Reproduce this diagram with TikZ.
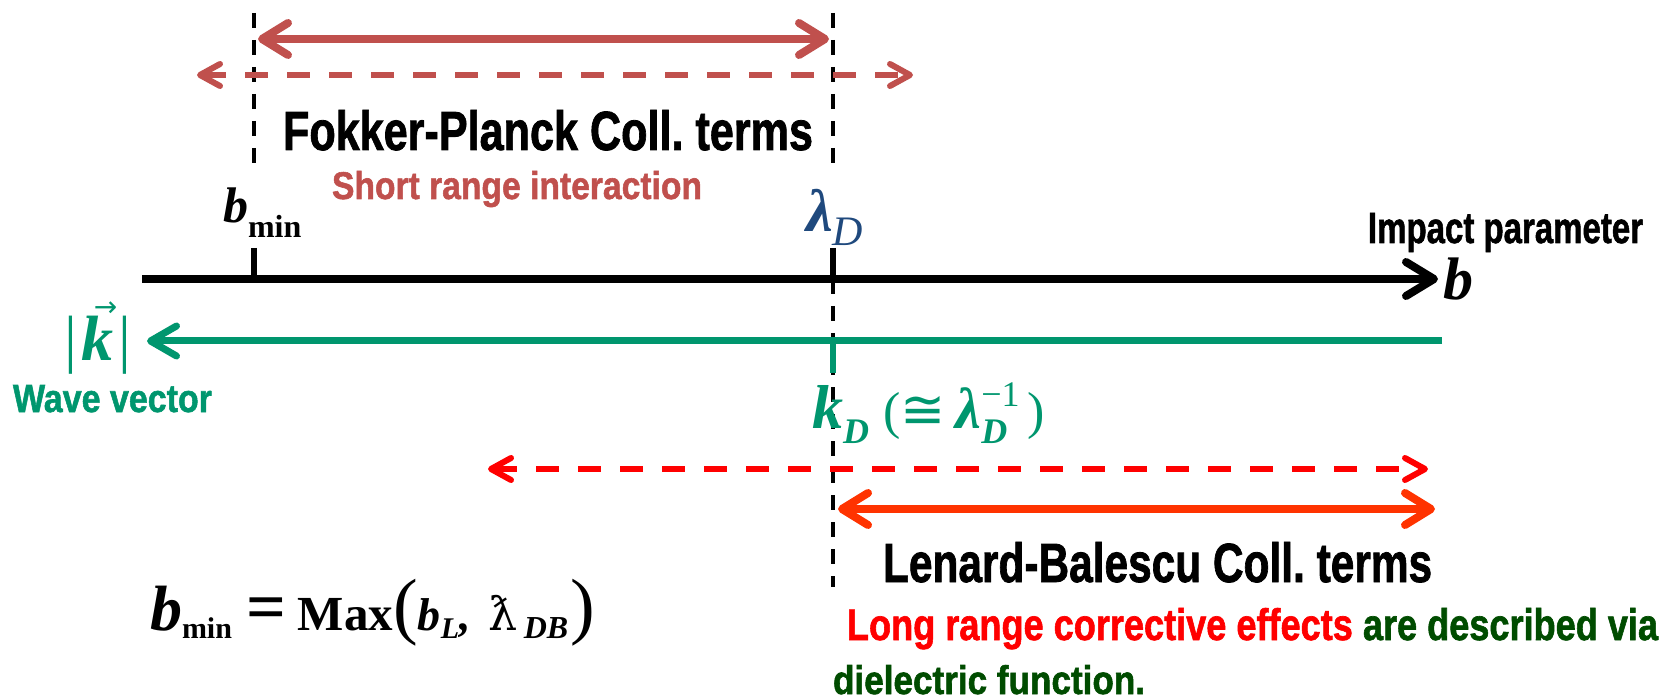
\documentclass[tikz,border=0pt]{standalone}
\usepackage{fontspec}
\usepackage{graphicx}
\setmainfont{Liberation Serif}
\newfontfamily\gothic{Liberation Sans}[FakeBold=1.5]
\newfontfamily\dvsans{DejaVu Sans}
\newfontfamily\dvserif{DejaVu Serif}
\usetikzlibrary{arrows.meta}
\definecolor{fpbrown}{RGB}{192,80,77}
\definecolor{lamblue}{RGB}{31,73,125}
\definecolor{wavegreen}{RGB}{0,150,110}
\definecolor{lbred}{RGB}{255,0,0}
\definecolor{lborange}{RGB}{255,51,0}
\definecolor{dkgreen}{RGB}{0,76,0}
\newcommand{\gfit}[3]{\resizebox{#1pt}{#2pt}{\gothic\bfseries #3}}
\newcommand{\fs}[1]{\fontsize{#1}{#1}\selectfont}
\frenchspacing
\tikzset{
  lbl/.style={inner sep=0pt, outer sep=0pt, anchor=base west},
  guide/.style={line width=4pt, dash pattern=on 15pt off 12pt},
  solidarr/.style={line width=8pt, >={Straight Barb[length=26pt,width=32pt,round]}, <->},
  dasharr/.style={line width=6pt, dash pattern=on 23pt off 19pt, >={Straight Barb[length=20pt,width=22pt,round]}, <->},
  axisarr/.style={line width=8pt, ->, >={Straight Barb[length=28pt,width=34pt,round]}},
  greenarr/.style={line width=7pt, wavegreen, ->, >={Straight Barb[length=26pt,width=30pt,round]}},
  tick/.style={line width=5.5pt}
}
\begin{document}
\begin{tikzpicture}[x=1pt,y=-1pt]
\useasboundingbox (0,0) rectangle (1670,700);
% dashed guide lines
\coordinate (gLt) at (254,13); \coordinate (gLb) at (254,167);
\coordinate (gRt) at (833,13); \coordinate (gRb) at (833,167);
\coordinate (gR2t) at (833,279); \coordinate (gR2b) at (833,587);
\draw[guide] (gLt) -- (gLb);
\draw[guide] (gRt) -- (gRb);
\draw[guide] (gR2t) -- (gR2b);
% Fokker-Planck range arrows
\coordinate (fpL) at (258,39); \coordinate (fpR) at (829,39);
\draw[solidarr, fpbrown] (fpL) -- (fpR);
\coordinate (fdL) at (197,75); \coordinate (fdR) at (913,75);
\draw[dasharr, fpbrown] (fdL) -- (fdR);
% impact parameter axis
\coordinate (axL) at (142,279); \coordinate (axR) at (1438,279);
\draw[axisarr] (axL) -- (axR);
\coordinate (t1a) at (254,248); \coordinate (t1b) at (254,279);
\coordinate (t2a) at (833,248); \coordinate (t2b) at (833,279);
\draw[tick] (t1a) -- (t1b);
\draw[tick] (t2a) -- (t2b);
% wave vector axis
\coordinate (wvR) at (1442,341); \coordinate (wvL) at (147,341);
\draw[greenarr] (wvR) -- (wvL);
\coordinate (t3a) at (833,341); \coordinate (t3b) at (833,373);
\draw[tick, wavegreen] (t3a) -- (t3b);
% Lenard-Balescu range arrows
\coordinate (rdL) at (488,469); \coordinate (rdR) at (1428,469);
\draw[dasharr, lbred] (rdL) -- (rdR);
\coordinate (lbL) at (838,509); \coordinate (lbR) at (1435,509);
\draw[solidarr, lborange] (lbL) -- (lbR);
% texts
\node[lbl] (fp) at (283,150) {\gfit{530}{40}{Fokker-Planck Coll. terms}};
\node[lbl, text=fpbrown] (sr) at (332,199) {\gfit{370}{28}{Short range interaction}};
\node[lbl] (ip) at (1368,243) {\gfit{275}{30}{Impact parameter}};
\node[lbl, text=wavegreen] (wv) at (13,412) {\gfit{199}{27}{Wave vector}};
\node[lbl] (lb) at (883,582) {\gfit{549}{40}{Lenard-Balescu Coll. terms}};
\node[lbl] (lr) at (847,640) {\gfit{811}{32}{\color{lbred}Long range corrective effects \color{dkgreen}are described via}};
\node[lbl, text=dkgreen] (df) at (833,694) {\gfit{312}{29}{dielectric function.}};
% math labels
\node[lbl] (bminlbl) at (223,223) {\fs{50}\bfseries\itshape b\upshape\raisebox{-15pt}{\fs{32}min}};
\node[lbl, text=lamblue] (lamD) at (806,232) {\fs{60}\bfseries\itshape λ\mdseries\raisebox{-14pt}{\fs{42}D}};
\node[lbl] (blbl) at (1443,300) {\fs{60}\bfseries\itshape b};
\node[lbl, text=wavegreen] (klbl) at (64,361) {\fs{64}|\hspace{5pt}{\bfseries\itshape\rlap{\hspace{12pt}\raisebox{44pt}{\dvsans\upshape\mdseries\fs{28}→}}k}\hspace{5pt}|};
\node[lbl, text=wavegreen] (kD) at (812,428) {\fs{62}\bfseries\itshape k\raisebox{-15pt}{\fs{36}D}\hspace{14pt}\mdseries\upshape\fs{52}(\dvsans\fs{54}≅\rmfamily\hspace{10pt}\bfseries\itshape\fs{58}λ\rlap{\raisebox{-15pt}{\fs{36}D}}\mdseries\upshape\raisebox{21pt}{\fs{36}−1}\hspace{8pt}\fs{52})};
\node[lbl] (formula) at (150,630) {\fs{64}\bfseries\itshape b\upshape\raisebox{-8pt}{\fs{30}min}\hspace{14pt}\fs{70}=\hspace{12pt}\fs{49}Max\mdseries\fs{74}(\bfseries\itshape\fs{46}b\raisebox{-8pt}{\fs{30}L},\hspace{18pt}\mdseries\upshape\dvserif\fs{46}ƛ\rmfamily\bfseries\itshape\hspace{6pt}\raisebox{-8pt}{\fs{32}DB}\mdseries\upshape\hspace{2pt}\fs{74})};
\end{tikzpicture}
\end{document}
